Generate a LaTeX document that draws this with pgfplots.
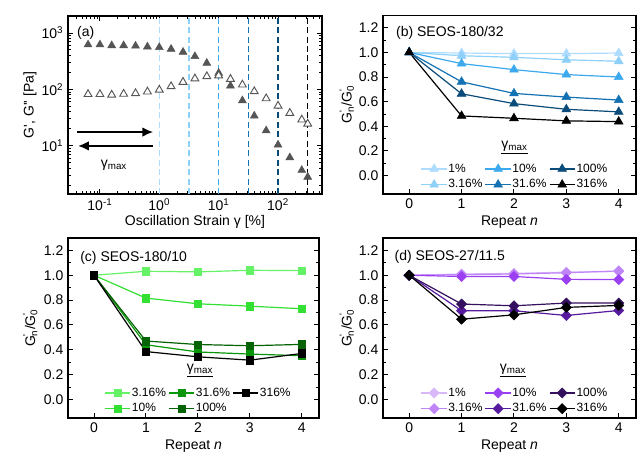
\documentclass[border=0pt]{standalone}
\usepackage{pgfplots}
\pgfplotsset{compat=1.18}
\usepackage{fontspec}
\setmainfont{Liberation Sans}
\usetikzlibrary{arrows.meta}
\definecolor{gm}{HTML}{555555}
\definecolor{b1}{HTML}{AEDCFF}
\definecolor{b2}{HTML}{8ED0F8}
\definecolor{b3}{HTML}{3CA9EE}
\definecolor{b4}{HTML}{1272B3}
\definecolor{b5}{HTML}{0B4B7A}
\definecolor{g2}{HTML}{66F266}
\definecolor{g3}{HTML}{33E033}
\definecolor{g4}{HTML}{0A960A}
\definecolor{g5}{HTML}{046304}
\definecolor{p1}{HTML}{D9B8FA}
\definecolor{p2}{HTML}{BF85F7}
\definecolor{p3}{HTML}{9B3FF2}
\definecolor{p4}{HTML}{561A9E}
\definecolor{p5}{HTML}{34105E}
\newcommand{\lbl}{\fontsize{10.5}{12}\selectfont}
\newcommand{\Gn}[1]{G\rlap{\textsuperscript{\textquotesingle}}\textsubscript{#1}}
\pgfplotsset{
  panel/.style={scale only axis, tick align=inside,
    axis line style={line width=0.9pt},
    major tick length=4pt, minor tick length=2pt,
    every tick/.style={black, line width=0.7pt},
    tick label style={font=\lbl}, label style={font=\lbl},
    /pgf/number format/assume math mode=true},
  rep/.style={panel, width=189.75pt, xmin=-0.5, xmax=4.33, ymin=-0.15, ymax=1.3,
    xtick={0,1,2,3,4}, ytick={0,0.2,0.4,0.6,0.8,1.0,1.2}, minor y tick num=1,
    xtick pos=bottom,
    yticklabel style={/pgf/number format/fixed, /pgf/number format/fixed zerofill, /pgf/number format/precision=1},
    xlabel={Repeat \textit{n}},
    xlabel style={at={(axis description cs:0.5,-0.155)}, anchor=center},
    ylabel={\Gn{n}/\Gn{0}},
    legend columns=3,
    legend style={draw=none, fill=none, font=\fontsize{9}{9.5}\selectfont, anchor=south,
      row sep=0pt, nodes={inner xsep=0.8pt},
      /tikz/every even column/.append style={column sep=1pt}},
    legend cell align=left,
    legend image code/.code={\draw[mark repeat=2,mark phase=2] plot coordinates {(0pt,0pt) (9.5pt,0pt) (19pt,0pt)};}
  },
  bser/.style={color=#1, mark=triangle*, mark size=3.8pt, line width=0.9pt, mark options={solid, fill=#1, line width=0.4pt}},
  gser/.style={color=#1, mark=square*, mark size=2.8pt, line width=0.9pt, mark options={solid, fill=#1, line width=0.4pt}},
  pser/.style={color=#1, mark=square*, mark size=2.7pt, line width=0.9pt, mark options={solid, fill=#1, line width=0.4pt, rotate=45}},
}
\begin{document}
\begin{tikzpicture}
\path[use as bounding box] (0,0) rectangle (478.5pt,338.25pt);
% ---------------- (a)
\begin{axis}[panel, at={(51pt,192.75pt)}, anchor=south west,
  width=190.5pt, height=133.5pt,
  xmode=log, ymode=log, xmin=0.029, xmax=550, ymin=1.4, ymax=2000,
  xticklabel={10\textsuperscript{\pgfmathparse{int(round(\tick/2.302585093))}\pgfmathresult}},
  yticklabel={10\textsuperscript{\pgfmathparse{int(round(\tick/2.302585093))}\pgfmathresult}},
  xlabel={Oscillation Strain γ [\%]},
  ylabel={G\textquotesingle, G\textquotesingle\textquotesingle\ [Pa]},
  xlabel style={at={(axis description cs:0.5,-0.155)}, anchor=center},
  ylabel style={at={(axis description cs:-0.15,0.5)}, anchor=center},
]
\foreach \xv/\cc in {1/b1,3.16/b2,10/b3,31.6/b4,100/b5,316/black}{
  \edef\tmp{\noexpand\draw[\cc, line width=0.9pt, dash pattern=on 4.5pt off 2.6pt] (axis cs:\xv,1.4) -- (axis cs:\xv,2000);}
  \tmp
}
\addplot[only marks, mark=triangle*, mark size=3.4pt, color=gm, mark options={fill=gm}] coordinates {
(0.0631,620)(0.1,620)(0.158,600)(0.251,600)(0.398,590)(0.631,570)(1,556)(1.58,519)(2.51,460)(3.98,385)
(6.31,293)(10,195)(15.8,116)(25.1,63.5)(39.8,34)(63.1,18.6)(100,10.4)(158,6.2)(251,3.7)(316,2.8)};
\addplot[only marks, mark=triangle*, mark size=3.4pt, color=gm, mark options={fill=white, line width=0.7pt}] coordinates {
(0.0631,82)(0.1,82)(0.158,80)(0.251,83)(0.398,85)(0.631,91)(1,98)(1.58,113)(2.51,135)(3.98,155)
(6.31,170)(10,176)(15.8,152)(25.1,121)(39.8,92)(63.1,69)(100,51)(158,38)(251,29)(316,24.5)};
\draw[line width=1pt, -{Latex[length=8pt,width=7pt]}] (rel axis cs:0.037,0.348) -- (rel axis cs:0.335,0.348);
\draw[line width=1pt, -{Latex[length=8pt,width=7pt]}] (rel axis cs:0.335,0.27) -- (rel axis cs:0.04,0.27);
\node[font=\lbl] at (rel axis cs:0.181,0.163) {γ\textsubscript{max}};
\node[font=\lbl, anchor=west, inner sep=0pt] at (rel axis cs:0.035,0.905) {(a)};
\end{axis}
% ---------------- (b)
\begin{axis}[rep, at={(287.25pt,192.75pt)}, anchor=south west, height=133.9pt,
  ylabel style={at={(axis description cs:-0.143,0.5)}, anchor=center},
  legend style={at={(axis description cs:0.52,-0.008)}}]
\addlegendimage{bser=b1}\addlegendentry{1\%}
\addlegendimage{bser=b3}\addlegendentry{10\%}
\addlegendimage{bser=b5}\addlegendentry{100\%}
\addlegendimage{bser=b2}\addlegendentry{3.16\%}
\addlegendimage{bser=b4}\addlegendentry{31.6\%}
\addlegendimage{bser=black}\addlegendentry{316\%}
\addplot[bser=b1, forget plot] coordinates {(0,1)(1,0.995)(2,0.99)(3,0.99)(4,0.995)};
\addplot[bser=b2, forget plot] coordinates {(0,1)(1,0.973)(2,0.96)(3,0.94)(4,0.928)};
\addplot[bser=b3, forget plot] coordinates {(0,1)(1,0.909)(2,0.86)(3,0.82)(4,0.80)};
\addplot[bser=b4, forget plot] coordinates {(0,1)(1,0.761)(2,0.667)(3,0.637)(4,0.613)};
\addplot[bser=b5, forget plot] coordinates {(0,1)(1,0.664)(2,0.584)(3,0.538)(4,0.517)};
\addplot[bser=black, forget plot] coordinates {(0,1)(1,0.484)(2,0.465)(3,0.444)(4,0.438)};
\node[font=\lbl, anchor=west, inner sep=0pt] at (rel axis cs:0.051,0.9) {(b) SEOS-180/32};
\node[font=\lbl] at (rel axis cs:0.52,0.262) {\underline{γ\textsubscript{max}}};
\end{axis}
% ---------------- (c)
\begin{axis}[rep, at={(51pt,24.75pt)}, anchor=south west, height=135pt, width=188.25pt,
  ylabel style={at={(axis description cs:-0.15,0.5)}, anchor=center},
  legend style={at={(axis description cs:0.518,-0.008)}}]
\addlegendimage{gser=g2}\addlegendentry{3.16\%}
\addlegendimage{gser=g4}\addlegendentry{31.6\%}
\addlegendimage{gser=black}\addlegendentry{316\%}
\addlegendimage{gser=g3}\addlegendentry{10\%}
\addlegendimage{gser=g5}\addlegendentry{100\%}
\addplot[gser=g2, forget plot] coordinates {(0,1)(1,1.032)(2,1.027)(3,1.04)(4,1.037)};
\addplot[gser=g3, forget plot] coordinates {(0,1)(1,0.816)(2,0.77)(3,0.751)(4,0.73)};
\addplot[gser=g4, forget plot] coordinates {(0,1)(1,0.44)(2,0.382)(3,0.365)(4,0.352)};
\addplot[gser=g5, forget plot] coordinates {(0,1)(1,0.47)(2,0.442)(3,0.432)(4,0.443)};
\addplot[gser=black, forget plot] coordinates {(0,1)(1,0.385)(2,0.343)(3,0.316)(4,0.37)};
\node[font=\lbl, anchor=west, inner sep=0pt] at (rel axis cs:0.048,0.887) {(c) SEOS-180/10};
\node[font=\lbl] at (rel axis cs:0.526,0.262) {\underline{γ\textsubscript{max}}};
\end{axis}
% ---------------- (d)
\begin{axis}[rep, at={(287.25pt,24.75pt)}, anchor=south west, height=135pt,
  ylabel style={at={(axis description cs:-0.143,0.5)}, anchor=center},
  legend style={at={(axis description cs:0.52,-0.008)}}]
\addlegendimage{pser=p1}\addlegendentry{1\%}
\addlegendimage{pser=p3}\addlegendentry{10\%}
\addlegendimage{pser=p5}\addlegendentry{100\%}
\addlegendimage{pser=p2}\addlegendentry{3.16\%}
\addlegendimage{pser=p4}\addlegendentry{31.6\%}
\addlegendimage{pser=black}\addlegendentry{316\%}
\addplot[pser=p1, forget plot] coordinates {(0,1)(1,1.01)(2,1.015)(3,1.025)(4,1.03)};
\addplot[pser=p2, forget plot] coordinates {(0,1)(1,1.005)(2,1.01)(3,1.02)(4,1.035)};
\addplot[pser=p3, forget plot] coordinates {(0,1)(1,0.99)(2,0.99)(3,0.967)(4,0.965)};
\addplot[pser=p4, forget plot] coordinates {(0,1)(1,0.714)(2,0.714)(3,0.676)(4,0.716)};
\addplot[pser=p5, forget plot] coordinates {(0,1)(1,0.768)(2,0.754)(3,0.776)(4,0.776)};
\addplot[pser=black, forget plot] coordinates {(0,1)(1,0.646)(2,0.681)(3,0.741)(4,0.757)};
\node[font=\lbl, anchor=west, inner sep=0pt] at (rel axis cs:0.045,0.893) {(d) SEOS-27/11.5};
\node[font=\lbl] at (rel axis cs:0.514,0.262) {\underline{γ\textsubscript{max}}};
\end{axis}
\end{tikzpicture}
\end{document}
